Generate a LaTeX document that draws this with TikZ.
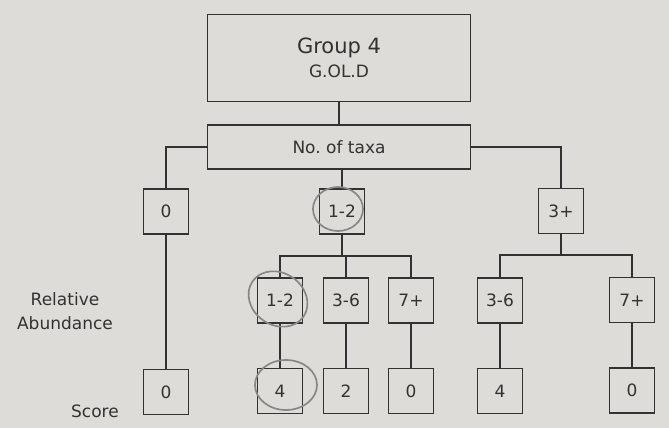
\documentclass[tikz,border=0pt]{standalone}
\usepackage{fontspec}
\setmainfont{DejaVu Sans}
\usetikzlibrary{positioning}
\definecolor{paper}{RGB}{221,220,216}
\definecolor{ink}{RGB}{50,50,50}
\definecolor{pencil}{RGB}{135,135,135}
\frenchspacing

\begin{document}
\begin{tikzpicture}[
  x=1pt, y=1pt,
  node distance=44pt,
  every node/.style={text=ink, font=\fontsize{17}{24}\selectfont},
  box/.style={draw=ink, line width=1.6pt, minimum width=45pt, minimum height=45pt, inner sep=0pt},
  wide/.style={draw=ink, line width=1.6pt, minimum width=263pt, inner sep=0pt},
  line/.style={draw=ink, line width=1.6pt},
  pencilring/.style={draw=pencil, line width=1.7pt}
]
\fill[paper] (0,0) rectangle (669,-428);
\useasboundingbox (0,0) rectangle (669,-428);

% header boxes
\node[wide, minimum height=87pt, align=center] (group) at (339,-58) {{\fontsize{21}{26}\selectfont Group 4}\\G.OL.D};
\node[wide, minimum height=44pt] (taxa) [below=22pt of group] {No. of taxa};

% number of taxa
\node[box] (t0) at (166,-211.5) {0};
\node[box] (t12) at (342,-211.5) {1-2};
\node[box] (t3) at (561,-211) {3+};

% relative abundance
\node[box] (a12) at (280,-300.5) {1-2};
\node[box] (a36) at (346,-300.5) {3-6};
\node[box] (a7) at (411,-300.5) {7+};
\node[box] (b36) at (500,-300.5) {3-6};
\node[box] (b7) at (632,-300) {7+};

% score
\node[box] (s0) [below=134pt of t0] {0};
\node[box] (s12) [below=of a12] {4};
\node[box] (s36) [below=of a36] {2};
\node[box] (s7) [below=of a7] {0};
\node[box] (r36) [below=of b36] {4};
\node[box] (r7) [below=of b7] {0};

\node (rel) at (65,-311) [align=center] {Relative\\Abundance};
\node (score) at (95,-411) {Score};

\coordinate (j1) at (342,-256);
\coordinate (j2) at (561,-255);

\draw[line] (group) -- (taxa);
\draw[line] (taxa.west) -| (t0);
\draw[line] (taxa.south -| t12.north) -- (t12);
\draw[line] (taxa.east) -| (t3);
\draw[line] (t0) -- (s0);
\draw[line] (t12) -- (j1);
\draw[line] (j1) -| (a12);
\draw[line] (j1) -| (a7);
\draw[line] (j1 -| a36) -- (a36);
\draw[line] (t3) -- (j2);
\draw[line] (j2) -| (b36);
\draw[line] (j2) -| (b7);
\draw[line] (a12) -- (s12);
\draw[line] (a36) -- (s36);
\draw[line] (a7) -- (s7);
\draw[line] (b36) -- (r36);
\draw[line] (b7) -- (r7);

% pencil rings
\draw[pencilring] (338,-209) ellipse [x radius=25, y radius=22];
\draw[pencilring, rotate around={-35:(278,-299)}] (278,-299) ellipse [x radius=31, y radius=26];
\draw[pencilring] (286,-385) ellipse [x radius=31, y radius=25];
\end{tikzpicture}
\end{document}
